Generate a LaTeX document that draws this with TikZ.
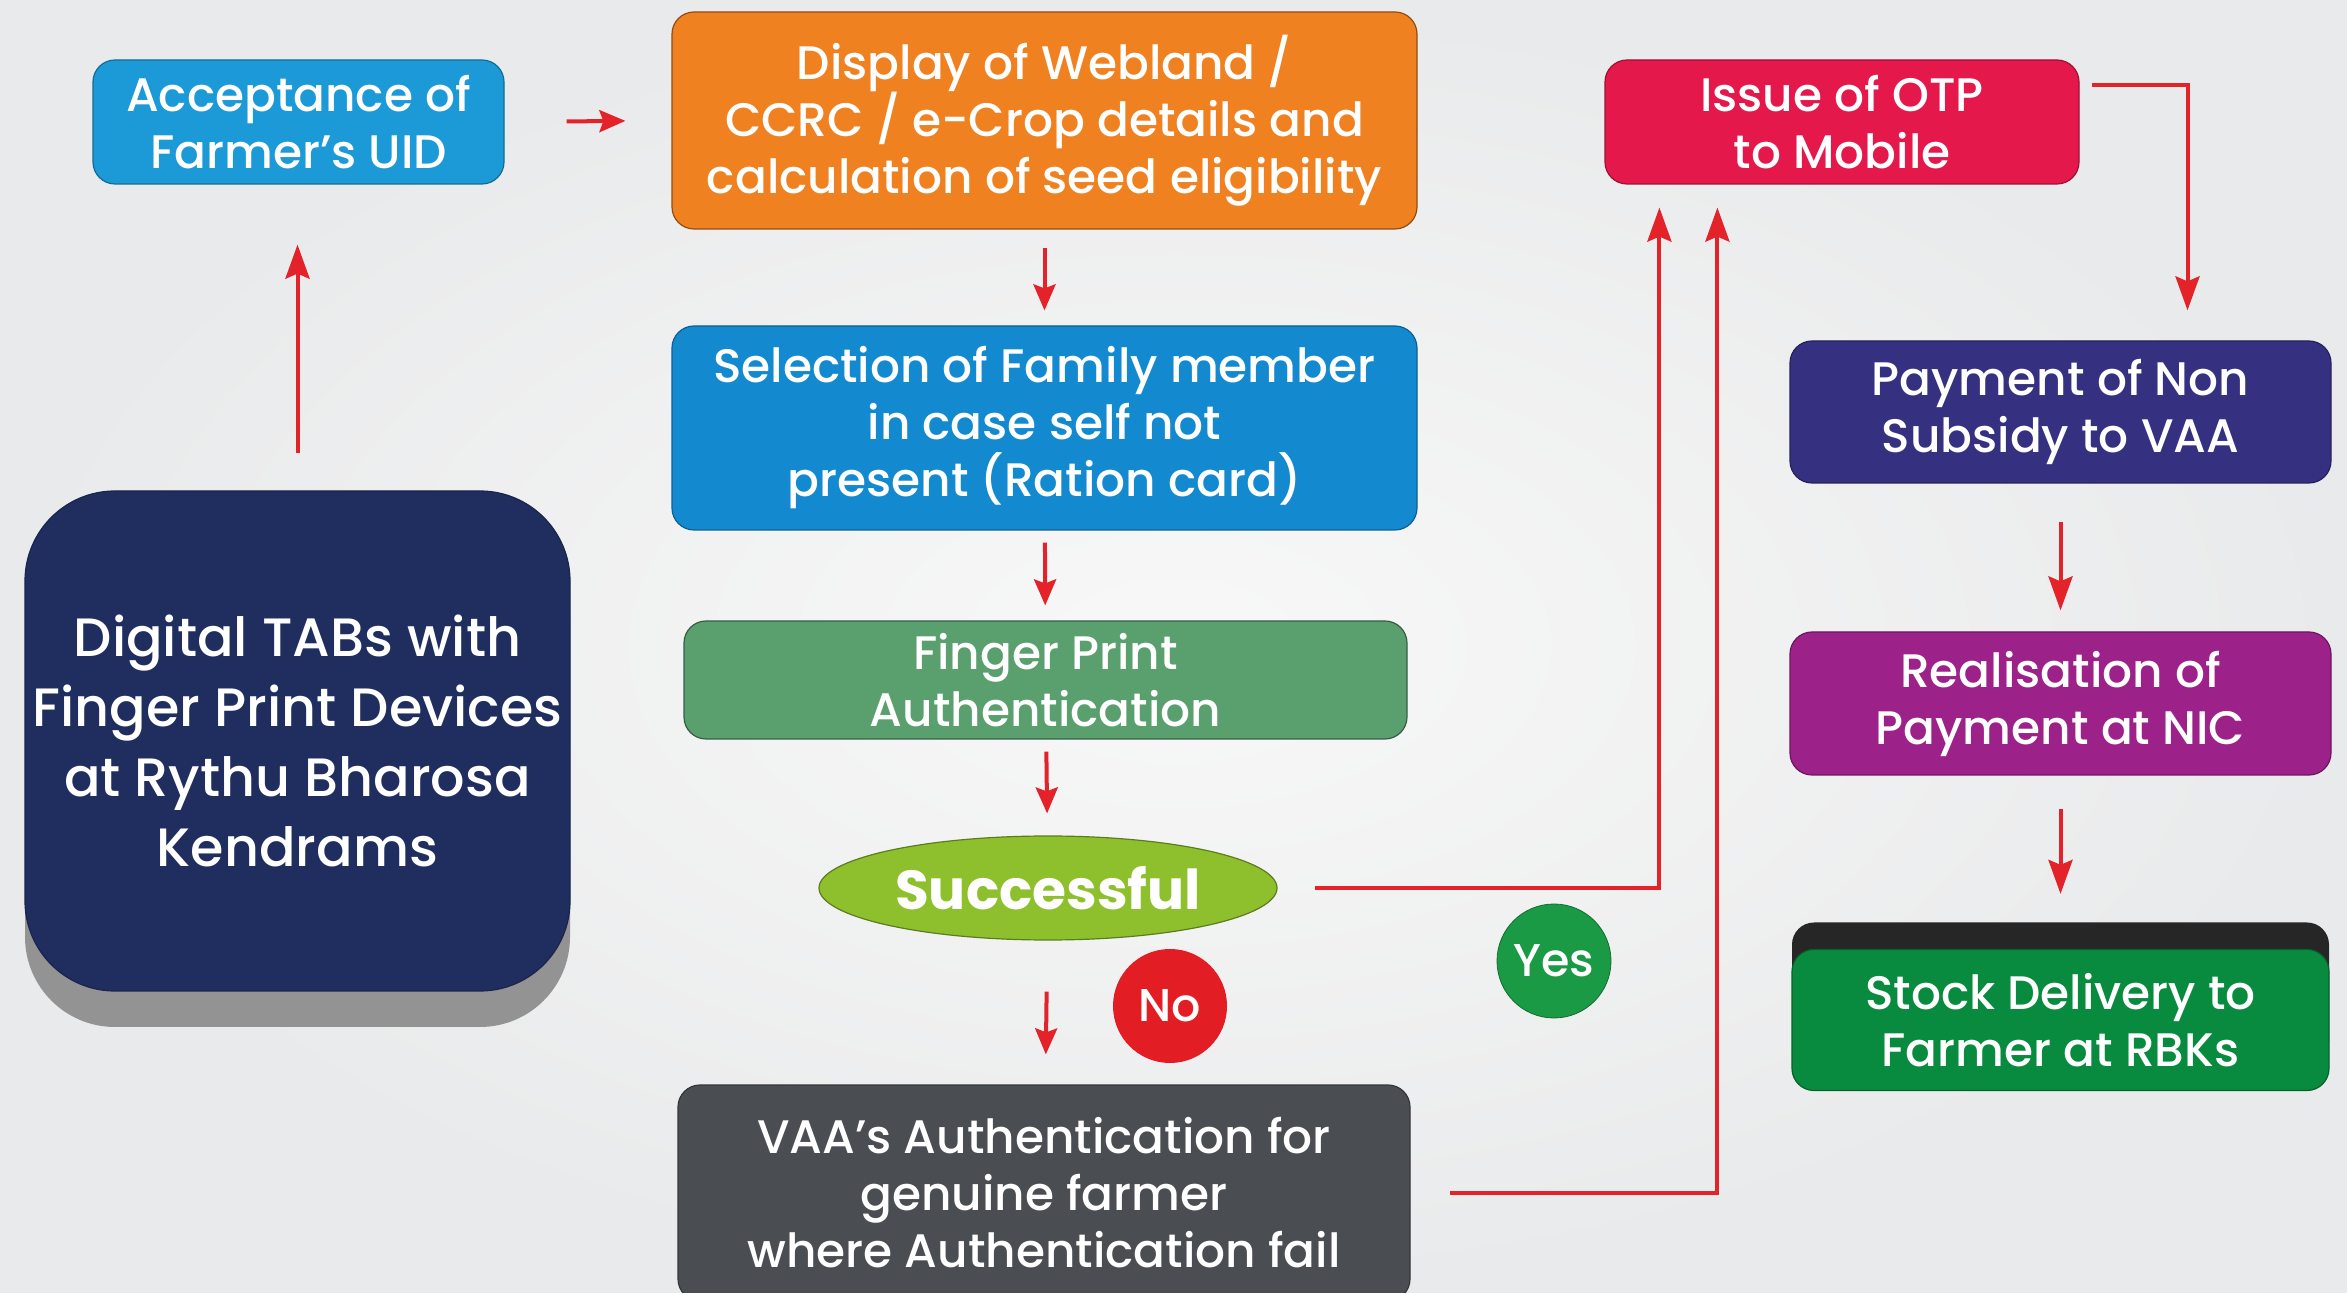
\documentclass[tikz,border=0pt]{standalone}
\usepackage{fontspec}
\setmainfont{Poppins}[UprightFont=* Medium, BoldFont=* Bold]
\usetikzlibrary{shapes.geometric}
\usetikzlibrary{arrows.meta}
\usetikzlibrary{shadows}

\definecolor{bgedge}{HTML}{E9EAEB}
\definecolor{bgmid}{HTML}{F8F8F8}
\definecolor{arrowred}{HTML}{E4222A}
\definecolor{uidblue}{HTML}{1B9AD7}
\definecolor{webland}{HTML}{F08121}
\definecolor{famblue}{HTML}{1389CF}
\definecolor{fpgreen}{HTML}{5A9F6E}
\definecolor{okgreen}{HTML}{8DC02C}
\definecolor{nored}{HTML}{E21D24}
\definecolor{yesgreen}{HTML}{1B9A45}
\definecolor{vaagrey}{HTML}{4A4D52}
\definecolor{tabnavy}{HTML}{1F2E5E}
\definecolor{otpred}{HTML}{E5184B}
\definecolor{payblue}{HTML}{363081}
\definecolor{nicpurple}{HTML}{9C2188}
\definecolor{rbkgreen}{HTML}{088B3E}

\begin{document}
\begin{tikzpicture}[x=0.5pt, y=-0.5pt,
  box/.style={rectangle, rounded corners=11pt, text=white, align=center,
    inner sep=0pt, line width=0.6pt, font=\fontsize{23.5}{28.5}\selectfont},
  badge/.style={circle, minimum size=57pt, inner sep=0pt, text=white,
    font=\fontsize{23}{28}\selectfont},
  arr/.style={draw=arrowred, line width=2pt,
    -{Stealth[length=13pt, width=11pt, inset=2pt]}},
  longarr/.style={arr, -{Stealth[length=17pt, width=12pt, inset=2.5pt]}}]

\useasboundingbox (0,0) rectangle (2347,1293);
\clip (0,0) rectangle (2347,1293);
\shade[inner color=bgmid, outer color=bgedge] (0,0) rectangle (2347,1293);

% left column
\node[box, fill=tabnavy, draw=tabnavy!80!black, rounded corners=45pt,
      minimum width=272.5pt, minimum height=250pt,
      font=\fontsize{27}{35}\selectfont,
      general shadow={fill=gray!85, shadow yshift=-18pt}]
     (tabs) at (297.5, 741) {Digital TABs with\\Finger Print Devices\\at Rythu Bharosa\\Kendrams};
\node[box, fill=uidblue, draw=uidblue!70!black, minimum width=205.5pt, minimum height=62pt]
     (uid) at (298.5, 122) {Acceptance of\\Farmer’s UID};

% middle column
\node[box, fill=webland, draw=webland!60!black, minimum width=372.5pt, minimum height=108.5pt]
     (disp) at (1044.5, 120.5) {Display of Webland /\\CCRC / e-Crop details and\\calculation of seed eligibility};
\node[box, fill=famblue, draw=famblue!70!black, minimum width=372.5pt, minimum height=102pt]
     (fam) at (1044.5, 428) {Selection of Family member\\in case self not\\present (Ration card)};
\node[box, fill=fpgreen, draw=fpgreen!60!black, minimum width=361.5pt, minimum height=59pt]
     (fp) at (1045.5, 680) {Finger Print\\Authentication};
\node[ellipse, fill=okgreen, draw=okgreen!65!black, line width=0.6pt, text=white,
      minimum width=229pt, minimum height=52pt, inner sep=0pt,
      font=\fontsize{27.5}{32}\bfseries\selectfont]
     (succ) at (1048, 888) {Successful};
\node[badge, fill=nored] (no) at (1170, 1006) {No};
\node[box, fill=vaagrey, draw=vaagrey!70!black, minimum width=366pt, minimum height=108pt]
     (vaa) at (1044, 1193) {VAA’s Authentication for\\genuine farmer\\where Authentication fail};
\node[badge, fill=yesgreen, draw=yesgreen!70!black] (yes) at (1554, 961) {Yes};

% right column
\node[box, fill=otpred, draw=otpred!70!black, minimum width=237pt, minimum height=62pt]
     (otp) at (1842, 122) {Issue of OTP\\to Mobile};
\node[box, fill=payblue, draw=payblue!70!black, minimum width=270.5pt, minimum height=71pt]
     (pay) at (2060.5, 412) {Payment of Non\\Subsidy to VAA};
\node[box, fill=nicpurple, draw=nicpurple!70!black, minimum width=270.5pt, minimum height=71.5pt]
     (real) at (2060.5, 703.5) {Realisation of\\Payment at NIC};
\node[box, fill=rbkgreen, draw=rbkgreen!70!black, minimum width=268.5pt, minimum height=70.5pt,
      general shadow={fill=black!85, shadow yshift=13.5pt}]
     (stock) at (2060.5, 1020) {Stock Delivery to\\Farmer at RBKs};

% connectors
\draw[longarr, shorten <=18.5pt, shorten >=30pt] (tabs.north) -- (tabs.north |- uid.south);
\draw[arr, shorten <=31pt, shorten >=23pt] (uid.east) -- (disp.west);
\draw[arr, shorten <=9pt, shorten >=7.5pt] (disp) -- (fam);
\draw[arr, shorten <=6pt, shorten >=7.5pt] (fam) -- (fp);
\draw[arr, shorten <=6pt, shorten >=11pt] (fp) -- (succ);
\draw[arr, shorten <=25.5pt, shorten >=15pt] (succ) -- (vaa);
\draw[longarr, shorten <=18.5pt, shorten >=11.5pt] (succ.east) -| ([xshift=27.5pt]otp.south west);
\draw[longarr, shorten <=19.5pt, shorten >=11.5pt] (vaa.east) -| ([xshift=56.5pt]otp.south west);
\draw[longarr, shorten <=6pt, shorten >=15pt] ([yshift=18.5pt]otp.east) -| ([xshift=63.5pt]pay.north);
\draw[longarr, shorten <=19pt, shorten >=10.5pt] (pay) -- (real);
\draw[longarr, shorten <=16.5pt, shorten >=27.5pt] (real) -- (stock);

\end{tikzpicture}
\end{document}
